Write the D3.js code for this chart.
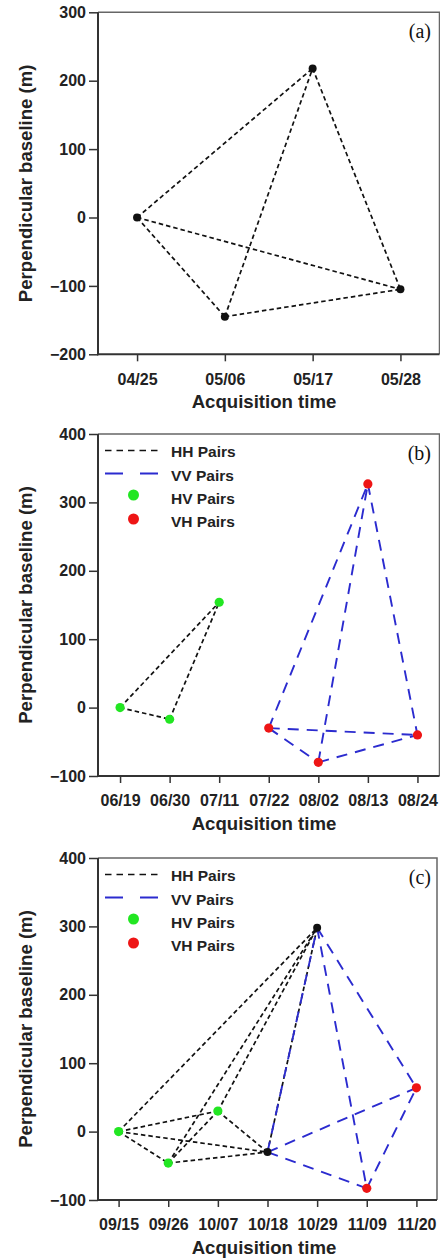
<!DOCTYPE html>
<html>
<head>
<meta charset="utf-8">
<script src="https://cdn.jsdelivr.net/npm/d3@7"></script>
<style>
  body { margin: 0; background: #fff; }
  svg { display: block; }
  .tick text { font-family: "Liberation Sans", Arial, Helvetica, sans-serif; font-weight: 700; font-size: 16px; fill: #222; }
  .ttl { font-family: "Liberation Sans", Arial, Helvetica, sans-serif; font-weight: 700; font-size: 18.6px; fill: #222; }
  .leg { font-family: "Liberation Sans", Arial, Helvetica, sans-serif; font-weight: 700; font-size: 15.5px; fill: #222; }
  .tag { font-family: "Liberation Serif", "Times New Roman", serif; font-size: 20px; fill: #111; }
</style>
</head>
<body>
<svg id="chart" width="440" height="1258"></svg>
<script>
// panel (a)
var datesA = ['04/25', '05/06', '05/17', '05/28']
var baseA = [0, -145, 218, -105]
var polA = ['HH', 'HH', 'HH', 'HH']
var hhPairsA = [[0, 1], [0, 2], [0, 3], [1, 2], [1, 3], [2, 3]]
var vvPairsA = []

// panel (b)
var datesB = ['06/19', '06/30', '07/11', '07/22', '08/02', '08/13', '08/24']
var baseB = [0, -17, 154, -30, -80, 327, -40]
var polB = ['HV', 'HV', 'HV', 'VH', 'VH', 'VH', 'VH']
var hhPairsB = [[0, 1], [0, 2], [1, 2]]
var vvPairsB = [[3, 4], [3, 5], [3, 6], [4, 5], [4, 6], [5, 6]]

// panel (c)
var datesC = ['09/15', '09/26', '10/07', '10/18', '10/29', '11/09', '11/20']
var baseC = [0, -46, 30, -30, 298, -83, 64]
var polC = ['HV', 'HV', 'HV', 'HH', 'HH', 'VH', 'VH']
var hhPairsC = [[0, 1], [0, 2], [0, 3], [0, 4], [1, 2], [1, 3], [1, 4], [2, 3], [2, 4], [3, 4]]
var vvPairsC = [[3, 4], [3, 5], [3, 6], [4, 5], [4, 6], [5, 6]]

var ticksA = [-200, -100, 0, 100, 200, 300]
var ticksBC = [-100, 0, 100, 200, 300, 400]
var legendItems = ['HH Pairs', 'VV Pairs', 'HV Pairs', 'VH Pairs']

var colors = {HH: '#111', VV: '#2b2bcf', HV: '#22e622', VH: '#ee1515'}

var svg = d3.select('#chart')

function drawPanel (cfg) {
  var g = svg.append('g')
  var left = 98
  var x = d3.scalePoint().domain(cfg.dates).range([left, cfg.right]).padding(cfg.pad)
  var y = d3.scaleLinear().domain([cfg.ticks[0], cfg.ticks[cfg.ticks.length - 1]]).range([cfg.bottom, cfg.top])

  // frame (top & right)
  g.append('path')
    .attr('d', 'M' + left + ',' + cfg.top + 'H' + cfg.right + 'V' + cfg.bottom)
    .attr('fill', 'none')
    .attr('stroke', '#666')
    .attr('stroke-width', 1.5)

  // axes
  var xg = g.append('g')
    .attr('transform', 'translate(0,' + cfg.bottom + ')')
    .call(d3.axisBottom(x).tickSize(7).tickSizeOuter(0).tickPadding(12))
  var yg = g.append('g')
    .attr('transform', 'translate(' + left + ',0)')
    .call(d3.axisLeft(y).tickValues(cfg.ticks).tickSize(9).tickSizeOuter(0).tickPadding(3).tickFormat(d3.format('d')))
  ;[xg, yg].forEach(function (a) {
    a.select('.domain').attr('stroke', '#333').attr('stroke-width', 2)
    a.selectAll('.tick line').attr('stroke', '#333').attr('stroke-width', 1.5)
  })
  yg.select('.domain').attr('d', 'M0,' + (cfg.bottom + 1) + 'V' + cfg.top)
  xg.select('.domain').attr('d', 'M' + (left - 1) + ',0H' + cfg.right)

  // titles
  g.append('text').attr('class', 'ttl')
    .attr('x', 264).attr('y', cfg.bottom + 54)
    .attr('text-anchor', 'middle')
    .text('Acquisition time')
  g.append('text').attr('class', 'ttl')
    .attr('transform', 'translate(32,' + ((cfg.top + cfg.bottom) / 2) + ') rotate(-90)')
    .attr('text-anchor', 'middle')
    .text('Perpendicular baseline (m)')

  // panel tag
  g.append('text').attr('class', 'tag')
    .attr('x', 431).attr('y', cfg.top + 26)
    .attr('text-anchor', 'end')
    .text(cfg.tag)

  // pair lines
  function pairs (list, cls) {
    g.append('g').selectAll('line').data(list).join('line')
      .attr('x1', function (p) { return x(cfg.dates[p[0]]) })
      .attr('y1', function (p) { return y(cfg.base[p[0]]) })
      .attr('x2', function (p) { return x(cfg.dates[p[1]]) })
      .attr('y2', function (p) { return y(cfg.base[p[1]]) })
      .attr('stroke', colors[cls])
      .attr('stroke-width', cls === 'HH' ? 1.7 : 1.9)
      .attr('stroke-dasharray', cls === 'HH' ? '4.5,3' : '11,8')
  }
  pairs(cfg.hh, 'HH')
  pairs(cfg.vv, 'VV')

  // acquisitions
  g.append('g').selectAll('circle').data(cfg.dates).join('circle')
    .attr('cx', function (d) { return x(d) })
    .attr('cy', function (d, i) { return y(cfg.base[i]) })
    .attr('r', function (d, i) { return cfg.pol[i] === 'HH' ? 4 : 4.6 })
    .attr('fill', function (d, i) { return colors[cfg.pol[i]] })

  // legend
  if (cfg.legend) {
    var lg = g.append('g').attr('transform', 'translate(0,' + cfg.top + ')')
    var rows = [17.5, 41.5, 64, 87]
    lg.append('line').attr('x1', 105).attr('x2', 158).attr('y1', rows[0] - 1).attr('y2', rows[0] - 1)
      .attr('stroke', colors.HH).attr('stroke-width', 1.6).attr('stroke-dasharray', '6.5,5')
    lg.append('line').attr('x1', 105).attr('x2', 158).attr('y1', rows[1] - 2).attr('y2', rows[1] - 2)
      .attr('stroke', colors.VV).attr('stroke-width', 1.9).attr('stroke-dasharray', '18,17')
    lg.append('circle').attr('cx', 133.5).attr('cy', rows[2] - 3).attr('r', 5.5).attr('fill', colors.HV)
    lg.append('circle').attr('cx', 133.5).attr('cy', rows[3] - 2).attr('r', 5.5).attr('fill', colors.VH)
    lg.selectAll('text').data(legendItems).join('text').attr('class', 'leg')
      .attr('x', 171).attr('y', function (d, i) { return rows[i] + 5.5 })
      .text(function (d) { return d })
  }
}

drawPanel({dates: datesA, base: baseA, pol: polA, hh: hhPairsA, vv: vvPairsA, ticks: ticksA,
  top: 12.3, bottom: 354.3, right: 439.5, pad: 0.445, tag: '(a)', legend: false})
drawPanel({dates: datesB, base: baseB, pol: polB, hh: hhPairsB, vv: vvPairsB, ticks: ticksBC,
  top: 434, bottom: 776, right: 439.5, pad: 0.445, tag: '(b)', legend: true})
drawPanel({dates: datesC, base: baseC, pol: polC, hh: hhPairsC, vv: vvPairsC, ticks: ticksBC,
  top: 858, bottom: 1200, right: 437, pad: 0.415, tag: '(c)', legend: true})
</script>
</body>
</html>
